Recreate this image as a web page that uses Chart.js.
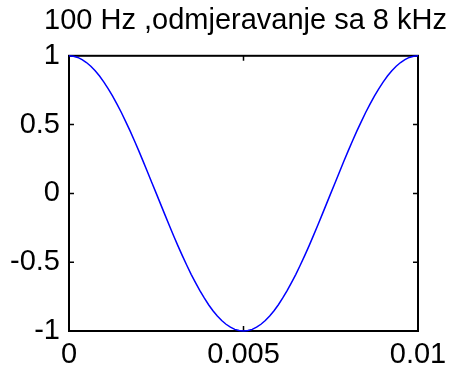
<!DOCTYPE html>
<html>
<head>
<meta charset="utf-8">
<script src="https://cdn.jsdelivr.net/npm/chart.js@4"></script>
<style>
  html, body { margin: 0; padding: 0; background: #fff; }
  canvas { display: block; }
</style>
</head>
<body>
<canvas id="grafik" width="454" height="374"></canvas>
<script>
// vrijeme uzoraka (s) i vrijednosti signala
const vrijeme = [0,0.000125,0.00025,0.000375,0.0005,0.000625,0.00075,0.000875,0.001,0.001125,
  0.00125,0.001375,0.0015,0.001625,0.00175,0.001875,0.002,0.002125,0.00225,0.002375,
  0.0025,0.002625,0.00275,0.002875,0.003,0.003125,0.00325,0.003375,0.0035,0.003625,
  0.00375,0.003875,0.004,0.004125,0.00425,0.004375,0.0045,0.004625,0.00475,0.004875,
  0.005,0.005125,0.00525,0.005375,0.0055,0.005625,0.00575,0.005875,0.006,0.006125,
  0.00625,0.006375,0.0065,0.006625,0.00675,0.006875,0.007,0.007125,0.00725,0.007375,
  0.0075,0.007625,0.00775,0.007875,0.008,0.008125,0.00825,0.008375,0.0085,0.008625,
  0.00875,0.008875,0.009,0.009125,0.00925,0.009375,0.0095,0.009625,0.00975,0.009875,0.01];
const signal = [1,0.997,0.988,0.972,0.951,0.924,0.891,0.853,0.809,0.760,
  0.707,0.649,0.588,0.522,0.454,0.383,0.309,0.233,0.156,0.078,
  0,-0.078,-0.156,-0.233,-0.309,-0.383,-0.454,-0.522,-0.588,-0.649,
  -0.707,-0.760,-0.809,-0.853,-0.891,-0.924,-0.951,-0.972,-0.988,-0.997,
  -1,-0.997,-0.988,-0.972,-0.951,-0.924,-0.891,-0.853,-0.809,-0.760,
  -0.707,-0.649,-0.588,-0.522,-0.454,-0.383,-0.309,-0.233,-0.156,-0.078,
  0,0.078,0.156,0.233,0.309,0.383,0.454,0.522,0.588,0.649,
  0.707,0.760,0.809,0.853,0.891,0.924,0.951,0.972,0.988,0.997,1];
const xOznake = [0, 0.005, 0.01];
const yOznake = [-1, -0.5, 0, 0.5, 1];
const naslov = "100 Hz ,odmjeravanje sa 8 kHz";

// okvir i kratke crtice prema unutra, kao u matlabu
const okvir = {
  id: "okvir",
  beforeDatasetsDraw(chart) {
    const { ctx, chartArea: a, scales: { x, y } } = chart;
    ctx.save();
    ctx.strokeStyle = "#000";
    ctx.lineWidth = 2;
    ctx.strokeRect(a.left, a.top, a.right - a.left, a.bottom - a.top);
    ctx.lineWidth = 1.5;
    ctx.beginPath();
    x.ticks.forEach(t => {
      const px = x.getPixelForValue(t.value);
      ctx.moveTo(px, a.bottom); ctx.lineTo(px, a.bottom - 5);
      ctx.moveTo(px, a.top); ctx.lineTo(px, a.top + 5);
    });
    y.ticks.forEach(t => {
      const py = y.getPixelForValue(t.value);
      ctx.moveTo(a.left, py); ctx.lineTo(a.left + 5, py);
      ctx.moveTo(a.right, py); ctx.lineTo(a.right - 5, py);
    });
    ctx.stroke();
    ctx.restore();
  }
};

const font = "'Liberation Sans', Arial, sans-serif";

new Chart(document.getElementById("grafik"), {
  type: "line",
  data: {
    datasets: [{
      data: vrijeme.map((t, i) => ({ x: t, y: signal[i] })),
      borderColor: "#0000ff",
      borderWidth: 1.5,
      pointRadius: 0,
      tension: 0,
      fill: false,
      clip: false
    }]
  },
  options: {
    responsive: false,
    animation: false,
    layout: { padding: { left: 0, right: 7, top: 0, bottom: 0 } },
    plugins: {
      legend: { display: false },
      tooltip: { enabled: false },
      title: {
        display: true,
        text: naslov,
        align: "end",
        color: "#000",
        font: { family: font, size: 29, weight: "normal", lineHeight: 1.2 },
        padding: { top: 4, bottom: 17 }
      }
    },
    scales: {
      x: {
        type: "linear",
        min: 0,
        max: 0.01,
        afterBuildTicks: s => { s.ticks = xOznake.map(v => ({ value: v })); },
        afterFit: s => { s.height = 43; s.paddingLeft = 0; s.paddingRight = 36; },
        grid: { display: false, drawTicks: false },
        border: { display: false },
        ticks: {
          color: "#000",
          padding: 7,
          maxRotation: 0,
          font: { family: font, size: 29 },
          callback: v => String(v)
        }
      },
      y: {
        min: -1,
        max: 1,
        afterBuildTicks: s => { s.ticks = yOznake.map(v => ({ value: v })); },
        afterFit: s => { s.width = 69; },
        grid: { display: false, drawTicks: false },
        border: { display: false },
        ticks: {
          color: "#000",
          padding: 9,
          font: { family: font, size: 29 },
          callback: v => String(v)
        }
      }
    }
  },
  plugins: [okvir]
});
</script>
</body>
</html>
